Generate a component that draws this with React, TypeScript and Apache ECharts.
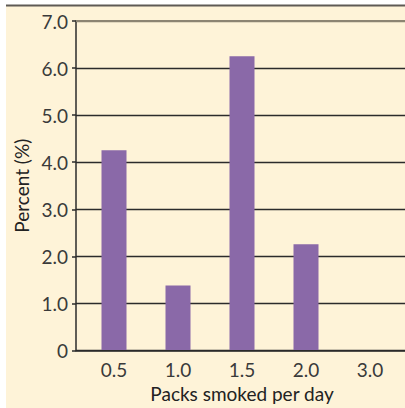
import React, { useEffect, useRef } from "react";
import * as echarts from "echarts";

const categories = ["0.5", "1.0", "1.5", "2.0", "3.0"];
const percentValues = [4.25, 1.37, 6.25, 2.25, 0];
const yTicks = [0, 1, 2, 3, 4, 5, 6, 7];
const xTitle = "Packs smoked per day";
const yTitle = "Percent (%)";

export default function App() {
  const ref = useRef<HTMLDivElement>(null);
  useEffect(() => {
    document.body.style.margin = "0";
    const chart = echarts.init(ref.current!, null, { renderer: "svg" });
    const font = "Lato";
    const textColor = "#3a3a3a";
    chart.setOption({
      animation: false,
      backgroundColor: "#ffffff",
      graphic: [
        { type: "rect", z: -10, shape: { x: 6, y: 6, width: 399, height: 402 }, style: { fill: "#fef3d8" } },
        { type: "line", shape: { x1: 6, y1: 5.5, x2: 405, y2: 5.5 }, style: { stroke: "#5e5a55", lineWidth: 2 } },
      ],
      grid: [
        { left: 76, right: 0, top: 21, bottom: 57.5 },
        { left: 82, width: 320, top: 21, bottom: 57.5 },
      ],
      xAxis: [
        {
          gridIndex: 0, type: "value", min: 0, max: 1,
          axisLine: { show: true, lineStyle: { color: "#2b2b2b", width: 1.5 } },
          axisTick: { show: false }, axisLabel: { show: false }, splitLine: { show: false },
        },
        {
          gridIndex: 1, type: "category", data: categories,
          axisLine: { show: false }, axisTick: { show: false },
          axisLabel: { margin: 10, fontFamily: font, fontSize: 19, color: textColor },
          name: xTitle, nameLocation: "middle", nameGap: 34,
          nameTextStyle: { fontFamily: font, fontSize: 19, color: "#222" },
        },
      ],
      yAxis: [
        {
          gridIndex: 0, type: "value", min: 0, max: 7, interval: 1,
          axisLine: { show: true, lineStyle: { color: "#2b2b2b", width: 1.5 } },
          axisTick: { show: true, length: 4, lineStyle: { color: "#2b2b2b", width: 1.5 } },
          axisLabel: {
            margin: 8, fontFamily: font, fontSize: 19, color: textColor,
            formatter: (v: number) => (v === 0 ? "0" : v.toFixed(1)),
          },
          splitLine: {
            show: true,
            lineStyle: { color: ["#2b2b2b", "#2b2b2b", "#2b2b2b", "#2b2b2b", "#2b2b2b", "#2b2b2b", "#2b2b2b", "#8c8472"], width: 1.3 },
          },
          name: yTitle, nameLocation: "middle", nameGap: 31, nameRotate: 90,
          nameTextStyle: { fontFamily: font, fontSize: 19, color: "#222" },
        },
        { gridIndex: 1, type: "value", min: 0, max: 7, interval: 1, show: false, splitLine: { show: false } },
      ],
      series: [
        {
          type: "bar", xAxisIndex: 1, yAxisIndex: 1, data: percentValues, barWidth: 25,
          itemStyle: { color: "#8a69a8" },
        },
        {
          type: "line", xAxisIndex: 0, yAxisIndex: 0, data: [],
          markLine: {
            silent: true, symbol: "none", label: { show: false },
            lineStyle: { color: "#8c8472", width: 2, type: "solid" },
            data: [{ yAxis: yTicks[yTicks.length - 1] }],
          },
        },
      ],
    });
    return () => chart.dispose();
  }, []);
  return <div ref={ref} style={{ width: 405, height: 408 }} />;
}
